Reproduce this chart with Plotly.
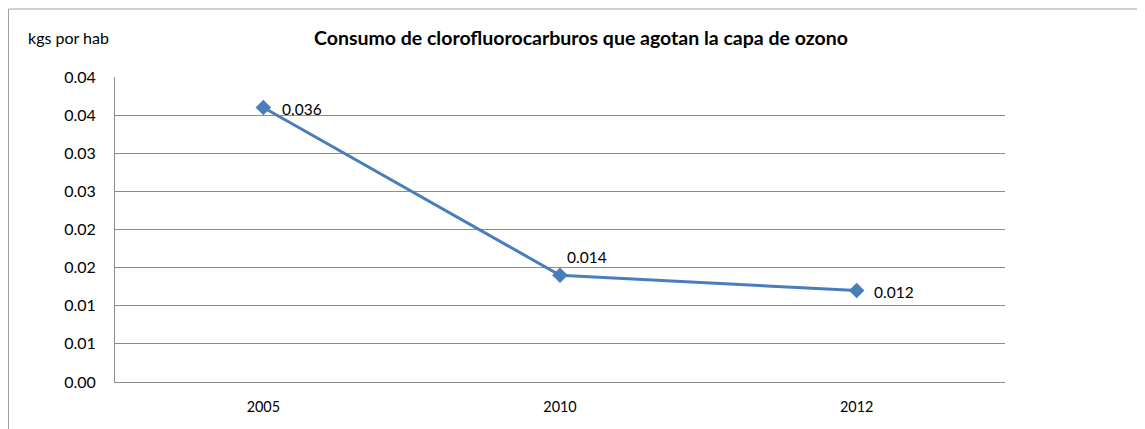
import plotly.graph_objects as go

years = ["2005", "2010", "2012"]
values = [0.036, 0.014, 0.012]
value_labels = ["0.036", "0.014", "0.012"]
y_tickvals = [0, 0.005, 0.01, 0.015, 0.02, 0.025, 0.03, 0.035, 0.04]
y_ticktext = ["0.00", "0.01", "0.01", "0.02", "0.02", "0.03", "0.03", "0.04", "0.04"]

# label offsets (pixels) relative to each marker
label_xshift = [17, 5, 15]
label_yshift = [-1, 18, -1]

W, H = 1137, 421
L, R, T, B = 107, 140, 69, 47
pw, ph = W - L - R, H - T - B

def px(x):
    return (x - L) / pw

def py(y):
    return (H - B - y) / ph

FONT = "Lato"
GRID = "#8c8c8c"

fig = go.Figure()
fig.add_trace(go.Scatter(
    x=years, y=values,
    mode="lines+markers",
    line=dict(color="#4A7EBB", width=3),
    marker=dict(symbol="diamond", size=12, color="#4A7EBB"),
    cliponaxis=False,
    showlegend=False,
))

annotations = [
    dict(text="<b>Consumo de clorofluorocarburos que agotan la capa de ozono</b>",
         xref="paper", yref="paper", x=px(573), y=py(29),
         xanchor="center", yanchor="middle", showarrow=False,
         font=dict(family=FONT, size=19.5, color="#000000")),
    dict(text="kgs por hab",
         xref="paper", yref="paper", x=px(18), y=py(29),
         xanchor="left", yanchor="middle", showarrow=False,
         font=dict(family=FONT, size=16, color="#000000")),
]
for i, (v, lab, dx, dy) in enumerate(zip(values, value_labels, label_xshift, label_yshift)):
    annotations.append(dict(
        text=lab, x=i, y=v, xref="x", yref="y",
        xanchor="left", yanchor="middle", showarrow=False,
        xshift=dx, yshift=dy,
        font=dict(family=FONT, size=15.5, color="#000000"),
    ))

fig.update_layout(
    width=W, height=H,
    margin=dict(l=L, r=R, t=T, b=B),
    paper_bgcolor="white", plot_bgcolor="white",
    font=dict(family=FONT, color="#000000"),
    xaxis=dict(
        type="category",
        range=[-0.5, len(years) - 0.5],
        showgrid=False, showline=True, linecolor=GRID, linewidth=1,
        ticks="outside", ticklen=12, tickcolor="rgba(0,0,0,0)",
        tickfont=dict(family=FONT, size=14.4),
        fixedrange=True,
    ),
    yaxis=dict(
        range=[0, 0.04],
        tickvals=y_tickvals, ticktext=y_ticktext,
        showgrid=True, gridcolor=GRID, gridwidth=1,
        showline=True, linecolor=GRID, linewidth=1,
        zeroline=False,
        ticks="outside", ticklen=15, tickcolor="rgba(0,0,0,0)",
        tickfont=dict(family=FONT, size=16),
        fixedrange=True,
    ),
    shapes=[
        dict(type="line", xref="paper", yref="paper",
             x0=px(0.5), x1=px(0.5), y0=py(1), y1=py(H + 5),
             line=dict(color="#a0a0a0", width=1)),
        dict(type="line", xref="paper", yref="paper",
             x0=px(0.5), x1=px(W + 5), y0=py(1), y1=py(1),
             line=dict(color="#a0a0a0", width=1)),
    ],
    annotations=annotations,
)

fig.write_html("out.html")
